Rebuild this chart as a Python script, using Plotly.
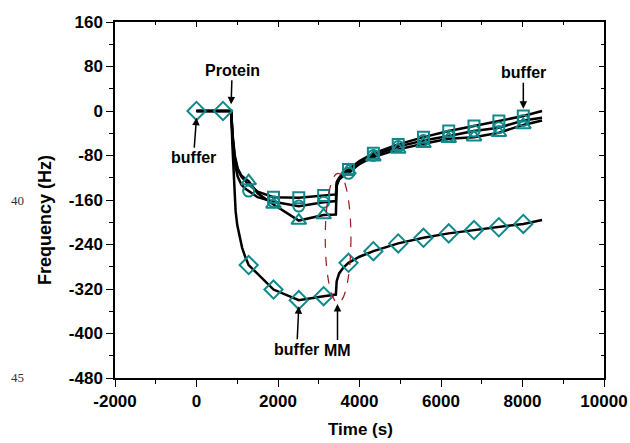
import plotly.graph_objects as go

# ---------------- data ----------------
marker_t = [0, 650, 1280, 1890, 2510, 3120, 3730, 4340, 4950, 5570, 6190, 6810, 7420, 8020]

sq_t = marker_t[3:]
sq_v = [-155, -156, -152, -105, -76, -60, -47, -36, -27, -18, -9]
ci_t = marker_t[2:]
ci_v = [-144, -163, -171, -164, -112, -80, -64, -53, -45, -36, -30, -17]
tr_t = marker_t[2:]
tr_v = [-126, -168, -197, -187, -107, -83, -69, -59, -50, -47, -39, -25]
di_t = marker_t
di_v = [0, 0, -277, -321, -340, -333, -273, -252, -238, -228, -220, -214, -209, -203]

# continuous recordings (black lines)
sq_line_t = [0, 850, 890, 940, 1010, 1100, 1200, 1300, 1500, 1890, 2510, 3120, 3420, 3440, 3500, 3600, 3730, 4000, 4340, 4950, 5570, 6190, 6810, 7420, 8020, 8480]
sq_line_v = [0, 0, -50, -85, -105, -118, -126, -133, -145, -155, -156, -152, -150, -128, -120, -112, -105, -90, -76, -60, -47, -36, -27, -18, -9, 0]
ci_line_t = [0, 850, 890, 940, 1010, 1100, 1200, 1280, 1500, 1890, 2510, 3120, 3420, 3440, 3500, 3600, 3730, 4000, 4340, 4950, 5570, 6190, 6810, 7420, 8020, 8480]
ci_line_v = [0, 0, -55, -95, -118, -132, -140, -144, -155, -163, -171, -164, -162, -132, -123, -117, -112, -95, -80, -64, -53, -45, -36, -30, -17, -12]
tr_line_t = [0, 850, 890, 940, 1010, 1100, 1200, 1280, 1500, 1890, 2510, 3120, 3420, 3440, 3500, 3600, 3730, 4000, 4340, 4950, 5570, 6190, 6810, 7420, 8020, 8480]
tr_line_v = [0, 0, -45, -80, -103, -116, -122, -126, -148, -168, -197, -187, -186, -135, -122, -113, -107, -95, -83, -69, -59, -50, -47, -39, -25, -17]
di_line_t = [0, 850, 880, 920, 960, 1000, 1050, 1120, 1200, 1280, 1890, 2510, 3120, 3420, 3440, 3500, 3600, 3730, 4000, 4340, 4950, 5570, 6190, 6810, 7420, 8020, 8480]
di_line_v = [0, 0, -60, -130, -180, -205, -225, -246, -263, -277, -321, -340, -333, -330, -306, -292, -282, -273, -262, -252, -238, -228, -220, -214, -209, -203, -196]

x_ticks = [-2000, 0, 2000, 4000, 6000, 8000, 10000]
y_ticks = [160, 80, 0, -80, -160, -240, -320, -400, -480]

TEAL = "#11898a"
FONT = "Liberation Sans, Arial, sans-serif"

fig = go.Figure()

for lt, lv in [(sq_line_t, sq_line_v), (ci_line_t, ci_line_v), (tr_line_t, tr_line_v), (di_line_t, di_line_v)]:
    fig.add_trace(go.Scatter(x=lt, y=lv, mode="lines", line=dict(color="black", width=2.5),
                             showlegend=False, hoverinfo="skip"))

for t, v, sym, sz in [(sq_t, sq_v, "square-open", 11), (ci_t, ci_v, "circle-open", 11),
                      (tr_t, tr_v, "triangle-up-open", 13), (di_t, di_v, "diamond-open", 14)]:
    fig.add_trace(go.Scatter(x=t, y=v, mode="markers",
                             marker=dict(symbol=sym, size=sz, color=TEAL, line=dict(color=TEAL, width=2)),
                             showlegend=False))

# invisible trace for the mirrored (inner-tick) axes
fig.add_trace(go.Scatter(x=[None], y=[None], xaxis="x2", yaxis="y2", showlegend=False))

# dashed ellipse around MM injection
fig.add_shape(type="circle", xref="x", yref="y", x0=3160, x1=3790, y0=-345, y1=-112,
              line=dict(color="#9b1c1c", width=1.2, dash="dash"))

arrow_kw = dict(showarrow=True, arrowhead=2, arrowsize=1, arrowwidth=1.5, arrowcolor="black",
                font=dict(family=FONT, size=16, color="black"))
fig.add_annotation(x=850, y=12, text="<b>Protein</b>", ax=1, ay=-34, **arrow_kw)
fig.add_annotation(x=0, y=-12, text="<b>buffer</b>", ax=-3, ay=40, **arrow_kw)
fig.add_annotation(x=2510, y=-351, text="<b>buffer</b>", ax=-2, ay=43, **arrow_kw)
fig.add_annotation(x=3460, y=-347, text="<b>MM</b>", ax=0, ay=46, **arrow_kw)
fig.add_annotation(x=8020, y=4, text="<b>buffer</b>", ax=0, ay=-36, **arrow_kw)

L, R, T, B = 115, 26, 22, 65
PW, PH = 630 - L - R, 443 - T - B

def px(xp):
    return (xp - L) / PW

def py(yp):
    return (443 - B - yp) / PH

# axis titles
fig.add_annotation(xref="paper", yref="paper", x=px(360), y=py(430), text="<b>Time (s)</b>",
                   showarrow=False, xanchor="center", yanchor="middle",
                   font=dict(family=FONT, size=17, color="black"))
fig.add_annotation(xref="paper", yref="paper", x=px(45), y=py(220), text="<b>Frequency (Hz)</b>",
                   showarrow=False, xanchor="center", yanchor="middle", textangle=-90,
                   font=dict(family=FONT, size=18, color="black"))

# manuscript line numbers in the left margin
for txt, ypix in [("40", 200), ("45", 377)]:
    fig.add_annotation(xref="paper", yref="paper", x=px(9), y=py(ypix),
                       text=txt, showarrow=False, xanchor="left", yanchor="middle",
                       font=dict(family="Liberation Serif, Times New Roman, serif", size=13, color="#333"))

axis_common = dict(showgrid=False, zeroline=False, linecolor="black", linewidth=1.5, automargin=False,
                   ticks="outside", ticklen=7, tickwidth=1.2, tickcolor="black",
                   tickfont=dict(family=FONT, size=17, color="black"))

fig.update_layout(
    width=630, height=443,
    margin=dict(l=L, r=R, t=T, b=B),
    paper_bgcolor="white", plot_bgcolor="white",
    xaxis=dict(range=[-2000, 10000], tickvals=x_ticks, ticktext=[f"<b>{v}</b>" for v in x_ticks],
               minor=dict(dtick=1000, tick0=0, ticks="outside", ticklen=4, tickcolor="black"),
               **axis_common),
    yaxis=dict(range=[-480, 160], tickvals=y_ticks, ticktext=[f"<b>{v}</b>" for v in y_ticks],
               minor=dict(dtick=40, tick0=0, ticks="outside", ticklen=4, tickcolor="black"),
               **axis_common),
    xaxis2=dict(overlaying="x", side="top", range=[-2000, 10000], tickvals=x_ticks, showticklabels=False,
                showgrid=False, zeroline=False, showline=True, linecolor="black", linewidth=1.5,
                automargin=False, ticks="inside", ticklen=5, tickcolor="black",
                minor=dict(dtick=1000, tick0=0, ticks="inside", ticklen=3, tickcolor="black")),
    yaxis2=dict(overlaying="y", side="right", range=[-480, 160], tickvals=y_ticks, showticklabels=False,
                showgrid=False, zeroline=False, showline=True, linecolor="black", linewidth=1.5,
                automargin=False, ticks="inside", ticklen=5, tickcolor="black",
                minor=dict(dtick=40, tick0=0, ticks="inside", ticklen=3, tickcolor="black")),
)

fig.write_html("out.html", config={"displayModeBar": False},
               post_script="document.body.style.margin='0px';document.body.style.overflow='hidden';")
